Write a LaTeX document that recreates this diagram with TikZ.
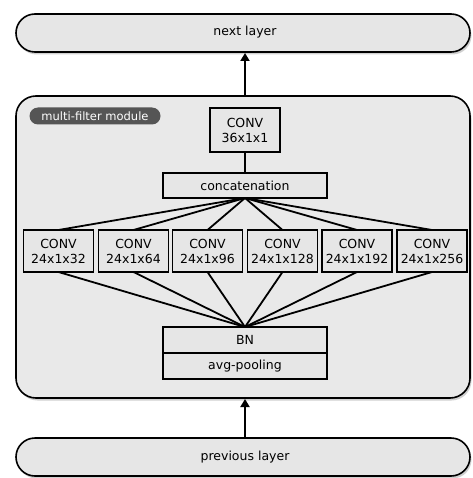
\documentclass[tikz,border=0pt]{standalone}
\usepackage{fontspec}
\setmainfont{DejaVu Sans}
\usetikzlibrary{arrows.meta,shadows}
\definecolor{boxfill}{HTML}{E6E6E6}
\definecolor{modfill}{HTML}{E9E9E9}
\definecolor{pill}{HTML}{555555}
\begin{document}
\begin{tikzpicture}[x=1pt,y=-1pt,
  layerbox/.style={draw=black,line width=1.6pt,fill=boxfill,rounded corners=19pt,
    drop shadow={shadow xshift=1.5pt,shadow yshift=-2.5pt,fill=black!30,opacity=0.6}},
  convbox/.style={draw=black,line width=1.8pt,fill=boxfill,inner sep=0pt,outer sep=0pt,align=center,font=\fontsize{12.5}{15}\selectfont},
  link/.style={line width=1.8pt},
  arr/.style={line width=1.8pt,-{Triangle[length=8pt,width=9pt]}}]
\useasboundingbox (0,0) rectangle (472,478);
\fill[white] (0,0) rectangle (472,478);
% layers
\draw[layerbox] (16,14) rectangle (470,52);
\node[font=\fontsize{12.5}{15}\selectfont] (next) at (245,32) {next layer};
\coordinate (nextb) at (245,53);
\draw[layerbox] (16,438) rectangle (470,476);
\node[font=\fontsize{12.5}{15}\selectfont] (prev) at (245,457) {previous layer};
\coordinate (prevt) at (245,437);
% module
\draw[draw=black,line width=1.6pt,fill=modfill,rounded corners=20pt,
  drop shadow={shadow xshift=1.5pt,shadow yshift=-2.5pt,fill=black!30,opacity=0.6}] (16,96) rectangle (470,398);
\coordinate (modt) at (245,96);
\coordinate (modb) at (245,399);
\node[fill=pill,text=white,rounded corners=8.5pt,minimum width=131pt,minimum height=17pt,inner sep=0pt,
  font=\fontsize{11.5}{13}\selectfont] (lbl) at (95,116) {multi-filter module};
% boxes
\node[convbox,minimum width=70pt,minimum height=44pt] (c36) at (245,130) {CONV\\36x1x1};
\node[convbox,minimum width=164pt,minimum height=25pt] (cat) at (245,185.5) {concatenation};
\node[convbox,minimum width=70pt,minimum height=42pt] (k1) at (58.5,251) {CONV\\24x1x32};
\node[convbox,minimum width=70pt,minimum height=42pt] (k2) at (133.5,251) {CONV\\24x1x64};
\node[convbox,minimum width=70pt,minimum height=42pt] (k3) at (207.5,251) {CONV\\24x1x96};
\node[convbox,minimum width=70pt,minimum height=42pt] (k4) at (282.5,251) {CONV\\24x1x128};
\node[convbox,minimum width=70pt,minimum height=42pt] (k5) at (357,251) {CONV\\24x1x192};
\node[convbox,minimum width=70pt,minimum height=42pt] (k6) at (432,251) {CONV\\24x1x256};
\node[convbox,minimum width=164pt,minimum height=26pt] (bn) at (245,340) {BN};
\node[convbox,minimum width=164pt,minimum height=26pt,anchor=north] (pool) at (bn.south) {avg-pooling};
% links
\draw[link] (c36.south) -- (cat.north);
\foreach \k in {k1,k2,k3,k4,k5,k6}{
  \draw[link] (cat.south) -- (\k.north);
  \draw[link] (\k.south) -- (bn.north);
}
\draw[arr] (modt) -- (nextb);
\draw[arr] (prevt) -- (modb);
\end{tikzpicture}
\end{document}
